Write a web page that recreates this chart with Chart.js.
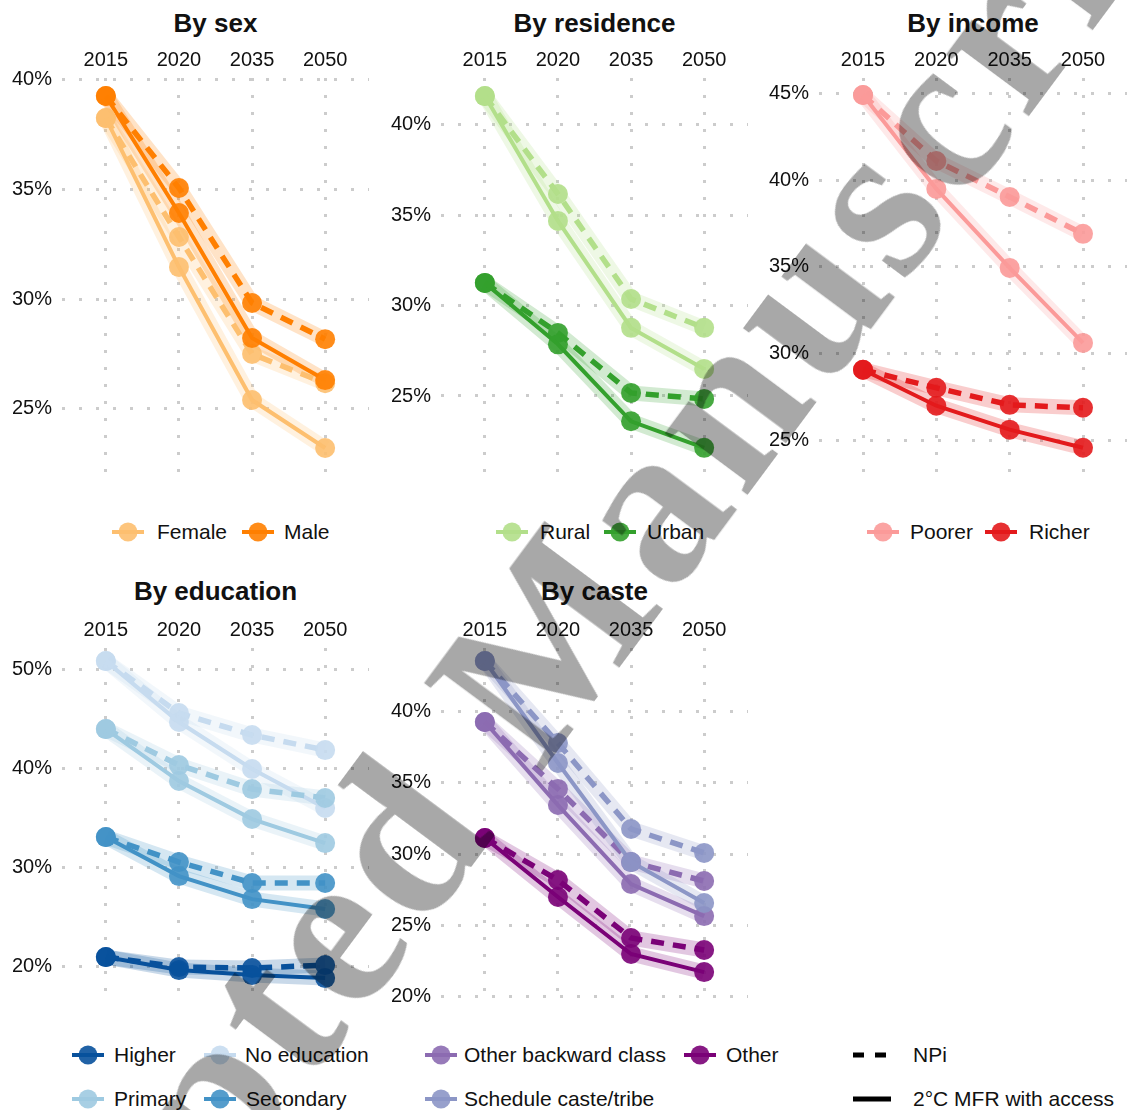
<!DOCTYPE html>
<html>
<head>
<meta charset="utf-8">
<title>Projected shares by group</title>
<script src="https://cdn.jsdelivr.net/npm/chart.js@4.4.1/dist/chart.umd.min.js"></script>
<style>
  body { margin: 0; background: #fff; }
  #page { position: relative; width: 1129px; height: 1110px; overflow: hidden; font-family: "Liberation Sans", Arial, sans-serif; color: #111; }
  canvas.panel { position: absolute; }
  .title { position: absolute; font-size: 26px; font-weight: bold; transform: translate(-50%, -50%); white-space: nowrap; }
  .key { position: absolute; }
  .lab { position: absolute; font-size: 21px; white-space: nowrap; transform: translateY(-50%); }
  #stamp { position: absolute; font-family: "Liberation Serif", "Times New Roman", serif; font-weight: bold; font-size: 225px; letter-spacing: 8.5px; line-height: 1; white-space: nowrap; color: rgba(0,0,0,0.34); transform-origin: 0 188px; pointer-events: none; }
</style>
</head>
<body>
<div id="page">
  <canvas class="panel" id="sex" width="380" height="450" style="left:0;top:40px"></canvas>
  <canvas class="panel" id="residence" width="380" height="450" style="left:380px;top:40px"></canvas>
  <canvas class="panel" id="income" width="369" height="450" style="left:760px;top:40px"></canvas>
  <canvas class="panel" id="education" width="380" height="403" style="left:0;top:610px"></canvas>
  <canvas class="panel" id="caste" width="380" height="403" style="left:380px;top:610px"></canvas>
  <div id="stamp">Accepted Manuscript</div>
</div>
<script>
const years = ['2015', '2020', '2035', '2050'];

// By sex (percent); NPi = dashed, MFR = solid
const femaleNPi = [38.26, 32.83, 27.49, 26.16];
const femaleMFR = [38.26, 31.46, 25.39, 23.20];
const maleNPi = [39.27, 35.07, 29.82, 28.17];
const maleMFR = [39.27, 33.93, 28.22, 26.30];
const sexTicks = [25, 30, 35, 40];

// By residence
const ruralNPi = [41.6, 36.18, 30.37, 28.77];
const ruralMFR = [41.6, 34.69, 28.77, 26.50];
const urbanNPi = [31.26, 28.49, 25.17, 24.84];
const urbanMFR = [31.26, 27.86, 23.60, 22.13];
const residenceTicks = [25, 30, 35, 40];

// By income
const poorerNPi = [44.9, 41.10, 39.03, 36.90];
const poorerMFR = [44.9, 39.49, 34.94, 30.62];
const richerNPi = [29.07, 28.03, 27.05, 26.88];
const richerMFR = [29.07, 27.0, 25.62, 24.58];
const incomeTicks = [25, 30, 35, 40, 45];

// By education
const higherNPi = [20.97, 19.96, 19.86, 20.16];
const higherMFR = [20.97, 19.66, 19.15, 18.85];
const noEduNPi = [50.8, 45.56, 43.35, 41.83];
const noEduMFR = [50.8, 44.66, 39.92, 35.99];
const primaryNPi = [43.95, 40.32, 37.90, 37.0];
const primaryMFR = [43.95, 38.71, 34.88, 32.46];
const secondaryNPi = [33.06, 30.54, 28.43, 28.43];
const secondaryMFR = [33.06, 29.13, 26.81, 25.81];
const educationTicks = [20, 30, 40, 50];

// By caste
const obcNPi = [39.28, 34.58, 29.45, 28.12];
const obcMFR = [39.28, 33.45, 27.91, 25.66];
const otherNPi = [31.14, 28.19, 24.12, 23.28];
const otherMFR = [31.14, 27.0, 23.0, 21.73];
const scstNPi = [43.56, 37.80, 31.77, 30.09];
const scstMFR = [43.56, 36.40, 29.45, 26.58];
const casteTicks = [20, 25, 30, 35, 40];

const sexLabels = ['Female', 'Male'];
const residenceLabels = ['Rural', 'Urban'];
const incomeLabels = ['Poorer', 'Richer'];
const educationLabels = ['Higher', 'No education', 'Primary', 'Secondary'];
const casteLabels = ['Other backward class', 'Other', 'Schedule caste/tribe'];
const scenarioLabels = ['NPi', '2°C MFR with access'];

const FONT = '"Liberation Sans", Arial, sans-serif';
const X_AXIS_H = 38;

function rgba(hex, a) {
    const n = parseInt(hex.slice(1), 16);
    return 'rgba(' + (n >> 16) + ',' + ((n >> 8) & 255) + ',' + (n & 255) + ',' + a + ')';
}

function pts(vals) {
    return vals.map((v, i) => ({ x: i, y: v }));
}

// ribbon (wide pale line), line, points: like ggplot layers
function buildDatasets(groups) {
    const ds = [];
    let k = 0;
    groups.forEach(g => {
        [[g.npi, true], [g.mfr, false]].forEach(([vals, dashed]) => {
            k++;
            ds.push({ data: pts(vals), borderColor: rgba(g.color, 0.22), borderWidth: 15,
                borderJoinStyle: 'round', pointRadius: 0, clip: false, order: 300 - k });
            ds.push({ data: pts(vals), borderColor: g.color, borderWidth: dashed ? 5.5 : 4,
                borderDash: dashed ? [13, 9] : [], pointRadius: 0, clip: false, order: 200 - k });
            ds.push({ data: pts(vals), showLine: false, pointRadius: 10, pointBorderWidth: 0,
                pointBackgroundColor: rgba(g.color, 0.9), clip: false, order: 100 - k });
        });
    });
    return ds;
}

const gridStyle = { color: '#cccccc', lineWidth: 3, drawTicks: false, borderDash: [3, 14] };
const borderStyle = { display: false, dash: [3, 14] };

function makePanel(p) {
    const canvas = document.getElementById(p.id);
    const chart = new Chart(canvas.getContext('2d'), {
        type: 'line',
        data: { datasets: buildDatasets(p.groups) },
        options: {
            responsive: false,
            animation: false,
            events: [],
            layout: { autoPadding: false, padding: { left: 0, right: p.padRight, top: 0, bottom: p.padBottom } },
            plugins: { legend: { display: false }, tooltip: { enabled: false } },
            scales: {
                x: {
                    type: 'linear', position: 'top', min: -0.6, max: 3.6,
                    afterBuildTicks: s => { s.ticks = years.map((y, i) => ({ value: i })); },
                    afterFit: s => { s.height = X_AXIS_H; s.paddingLeft = 0; s.paddingRight = 0; },
                    ticks: { callback: v => years[v], padding: 6, color: '#111', maxRotation: 0,
                        autoSkip: false, font: { size: 20, family: FONT } },
                    grid: gridStyle,
                    border: borderStyle
                },
                y: {
                    min: p.yMin, max: p.yMax,
                    afterBuildTicks: s => { s.ticks = p.ticks.map(v => ({ value: v })); },
                    afterFit: s => { s.width = p.yAxisW; s.paddingTop = 0; s.paddingBottom = 0; },
                    ticks: { callback: v => v + '%', padding: 10, color: '#111',
                        font: { size: 20, family: FONT } },
                    grid: gridStyle,
                    border: borderStyle
                }
            }
        }
    });
    // pin the plot area to where the reference has it
    const want = { left: p.yAxisW, top: X_AXIS_H, right: canvas.width - p.padRight, bottom: canvas.height - p.padBottom };
    for (let pass = 0; pass < 2; pass++) {
        const a = chart.chartArea;
        const cur = chart.options.layout.padding;
        chart.options.layout.padding = {
            left: cur.left + (want.left - a.left),
            top: cur.top + (want.top - a.top),
            right: cur.right + (a.right - want.right),
            bottom: cur.bottom + (a.bottom - want.bottom)
        };
        chart.update();
    }
}

const panels = [
    { id: 'sex', title: 'By sex', padRight: 11, padBottom: 10, yAxisW: 62, yMin: 21.74, yMax: 40.09, ticks: sexTicks,
      groups: [{ color: '#FDBF6F', npi: femaleNPi, mfr: femaleMFR }, { color: '#FF7F00', npi: maleNPi, mfr: maleMFR }] },
    { id: 'residence', title: 'By residence', padRight: 12, padBottom: 10, yAxisW: 61, yMin: 20.35, yMax: 42.6, ticks: residenceTicks,
      groups: [{ color: '#B2DF8A', npi: ruralNPi, mfr: ruralMFR }, { color: '#33A02C', npi: urbanNPi, mfr: urbanMFR }] },
    { id: 'income', title: 'By income', padRight: 2, padBottom: 10, yAxisW: 59, yMin: 22.72, yMax: 45.88, ticks: incomeTicks,
      groups: [{ color: '#FB9A99', npi: poorerNPi, mfr: poorerMFR }, { color: '#E31A1C', npi: richerNPi, mfr: richerMFR }] },
    { id: 'education', title: 'By education', padRight: 11, padBottom: 10, yAxisW: 62, yMin: 16.34, yMax: 52.12, ticks: educationTicks,
      groups: [{ color: '#08519C', npi: higherNPi, mfr: higherMFR }, { color: '#C6DBEF', npi: noEduNPi, mfr: noEduMFR },
               { color: '#9ECAE1', npi: primaryNPi, mfr: primaryMFR }, { color: '#4292C6', npi: secondaryNPi, mfr: secondaryMFR }] },
    { id: 'caste', title: 'By caste', padRight: 12, padBottom: 10, yAxisW: 61, yMin: 19.56, yMax: 44.47, ticks: casteTicks,
      groups: [{ color: '#8C6BB1', npi: obcNPi, mfr: obcMFR }, { color: '#7A0177', npi: otherNPi, mfr: otherMFR },
               { color: '#8C96C6', npi: scstNPi, mfr: scstMFR }] }
];

panels.forEach(makePanel);

const page = document.getElementById('page');
const stamp = document.getElementById('stamp');

// panel titles, centred over the plot areas
const titleSpots = [[215.5, 23], [594.5, 23], [973, 23], [215.5, 591], [594.5, 591]];
panels.forEach((p, i) => {
    const d = document.createElement('div');
    d.className = 'title';
    d.textContent = p.title;
    d.style.left = titleSpots[i][0] + 'px';
    d.style.top = titleSpots[i][1] + 'px';
    page.insertBefore(d, stamp);
});

function addText(txt, x, y) {
    const s = document.createElement('span');
    s.className = 'lab';
    s.textContent = txt;
    s.style.left = x + 'px';
    s.style.top = y + 'px';
    page.insertBefore(s, stamp);
}

function addGroupKey(label, color, cx, tx, cy) {
    const c = document.createElement('canvas');
    c.className = 'key';
    c.width = 36; c.height = 24;
    c.style.left = (cx - 18) + 'px';
    c.style.top = (cy - 12) + 'px';
    const g = c.getContext('2d');
    g.strokeStyle = color;
    g.lineWidth = 4;
    g.beginPath(); g.moveTo(2, 12); g.lineTo(34, 12); g.stroke();
    g.fillStyle = rgba(color, 0.9);
    g.beginPath(); g.arc(18, 12, 9.5, 0, Math.PI * 2); g.fill();
    page.insertBefore(c, stamp);
    addText(label, tx, cy);
}

function addScenarioKey(label, dashed, x, tx, cy) {
    const c = document.createElement('canvas');
    c.className = 'key';
    c.width = 40; c.height = 12;
    c.style.left = x + 'px';
    c.style.top = (cy - 6) + 'px';
    const g = c.getContext('2d');
    g.strokeStyle = '#000';
    g.lineWidth = 5;
    g.setLineDash(dashed ? [11, 11] : []);
    g.beginPath(); g.moveTo(1, 6); g.lineTo(39, 6); g.stroke();
    page.insertBefore(c, stamp);
    addText(label, tx, cy);
}

addGroupKey(sexLabels[0], '#FDBF6F', 128, 157, 532);
addGroupKey(sexLabels[1], '#FF7F00', 258, 284, 532);
addGroupKey(residenceLabels[0], '#B2DF8A', 512, 540, 532);
addGroupKey(residenceLabels[1], '#33A02C', 620, 647, 532);
addGroupKey(incomeLabels[0], '#FB9A99', 883, 910, 532);
addGroupKey(incomeLabels[1], '#E31A1C', 1001, 1029, 532);

addGroupKey(educationLabels[0], '#08519C', 88, 114, 1055);
addGroupKey(educationLabels[1], '#C6DBEF', 220, 245, 1055);
addGroupKey(educationLabels[2], '#9ECAE1', 88, 114, 1099);
addGroupKey(educationLabels[3], '#4292C6', 220, 246, 1099);

addGroupKey(casteLabels[0], '#8C6BB1', 441, 464, 1055);
addGroupKey(casteLabels[1], '#7A0177', 700, 726, 1055);
addGroupKey(casteLabels[2], '#8C96C6', 441, 464, 1099);

addScenarioKey(scenarioLabels[0], true, 852, 913, 1055);
addScenarioKey(scenarioLabels[1], false, 852, 913, 1099);

// diagonal "Accepted Manuscript" stamp over the figure
stamp.style.left = '-68px';
stamp.style.top = (1593 - 188) + 'px';
stamp.style.transform = 'rotate(-53.4deg)';
</script>
</body>
</html>
